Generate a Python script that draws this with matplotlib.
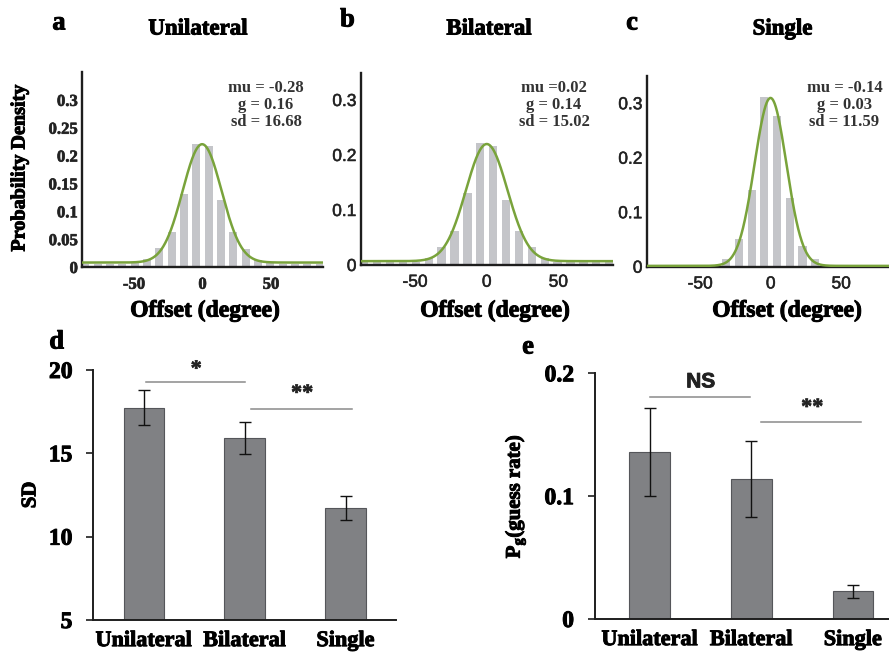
import numpy as np
import matplotlib
matplotlib.use("Agg")
import matplotlib.pyplot as plt
import matplotlib.patheffects as pe
from matplotlib.font_manager import FontProperties

W, H = 889, 656
SERIF = "Liberation Serif"
SANS = "Liberation Sans"

plt.rcParams['mathtext.fontset'] = 'custom'
plt.rcParams['mathtext.rm'] = 'Liberation Serif:bold'
plt.rcParams['mathtext.it'] = 'Liberation Serif:bold'
plt.rcParams['mathtext.bf'] = 'Liberation Serif:bold'

# ---------------- data ----------------
conditions = ["Unilateral", "Bilateral", "Single"]
panel_letters = ["a", "b", "c"]

# offset histograms (probability per 9-degree bin, bins from -90 to 90)
bin_width = 9.0
bin_centers = np.arange(-85.5, 90, bin_width)
hist_unilateral = [0.005, 0.005, 0.005, 0.005, 0.007, 0.014, 0.034, 0.063, 0.131, 0.221,
                   0.218, 0.120, 0.063, 0.033, 0.013, 0.007, 0.005, 0.005, 0.005, 0.005]
hist_bilateral = [0.005, 0.005, 0.005, 0.005, 0.005, 0.012, 0.032, 0.062, 0.131, 0.222,
                  0.217, 0.119, 0.061, 0.033, 0.012, 0.005, 0.005, 0.005, 0.005, 0.005]
hist_single = [0.001, 0.001, 0.001, 0.001, 0.001, 0.002, 0.0135, 0.051, 0.140, 0.312,
               0.277, 0.127, 0.038, 0.014, 0.002, 0.001, 0.001, 0.001, 0.001, 0.001]
histograms = [hist_unilateral, hist_bilateral, hist_single]

# mixture-model fits
fit_mu = [-0.28, 0.02, -0.14]
fit_g = [0.16, 0.14, 0.03]
fit_sd = [16.68, 15.02, 11.59]
fit_mu_text = ["mu = -0.28", "mu =0.02", "mu = -0.14"]
curve_sigma = [14.2, 14.5, 11.3]   # width of the plotted fit curve (degrees)

# group summaries
sd_means = [17.74, 15.92, 11.72]
sd_err = [1.07, 0.98, 0.72]
guess_means = [0.136, 0.114, 0.0225]
guess_err = [0.036, 0.031, 0.0055]

# ---------------- styling ----------------
HIST_COLOR = "#c4c5c9"
FIT_COLOR = "#79a33b"
BAR_COLOR = "#808184"
BAR_EDGE = "#55565a"
SIG_COLOR = "#8a8a8a"
AX_COLOR = "#1e1e1e"
HEAVY = [pe.withStroke(linewidth=0.7, foreground="black")]
HEAVY_SOFT = [pe.withStroke(linewidth=0.5, foreground="#333333")]

fig = plt.figure(figsize=(W / 100, H / 100), dpi=100)


def px_axes(left, top, right, bottom):
    return fig.add_axes([left / W, 1 - bottom / H, (right - left) / W, (bottom - top) / H])


def ftext(x, y, s, **kw):
    return fig.text(x / W, 1 - y / H, s, **kw)


# ---------------- panels a-c: offset distributions ----------------
hist_boxes = [(82, 72, 323, 267), (360.6, 72.5, 612.8, 265), (646.6, 76, 894.8, 266.7)]
title_x = [198, 489, 782.5]
letter_pos = [(59, 23), (347.5, 20), (632, 23)]
stats_x = [266, 554, 844.5]
xlabel_x = [205, 495, 787]

xs = np.linspace(-90, 90, 1441)
for i in range(3):
    ax = px_axes(*hist_boxes[i])
    ax.bar(bin_centers, histograms[i], width=5.8, color=HIST_COLOR, zorder=1)
    g, mu, s = fit_g[i], fit_mu[i], curve_sigma[i]
    curve = (1 - g) * bin_width * np.exp(-0.5 * ((xs - mu) / s) ** 2) / (s * np.sqrt(2 * np.pi)) \
        + g * bin_width / 180.0
    ax.plot(xs, curve, color=FIT_COLOR, lw=1.8, zorder=3)
    ax.set_xlim(-88, 88)
    ax.set_ylim(0, 0.35)
    for side in ("top", "right"):
        ax.spines[side].set_visible(False)
    for side in ("left", "bottom"):
        ax.spines[side].set_linewidth(1.7)
        ax.spines[side].set_color(AX_COLOR)
    ax.spines["bottom"].set_zorder(2)
    ax.set_xticks([-50, 0, 50])
    ax.set_xticklabels(["-50", "0", "50"])
    if i == 0:
        ax.set_yticks([0, 0.05, 0.1, 0.15, 0.2, 0.25, 0.3])
        ax.set_yticklabels(["0", "0.05", "0.1", "0.15", "0.2", "0.25", "0.3"])
        tick_font = dict(family=SERIF, weight="bold", size=12)
        effects = HEAVY_SOFT
    else:
        ax.set_yticks([0, 0.1, 0.2, 0.3])
        ax.set_yticklabels(["0", "0.1", "0.2", "0.3"])
        tick_font = dict(family=SANS, size=12.5)
        effects = [pe.withStroke(linewidth=0.4, foreground="#333333")]
    for lab in ax.get_xticklabels() + ax.get_yticklabels():
        lab.set_fontproperties(FontProperties(**tick_font))
        lab.set_color("#222222")
        lab.set_path_effects(effects)
    ax.tick_params(axis="both", length=0)
    ax.tick_params(axis="x", pad=7)
    ax.tick_params(axis="y", pad=3)
    ax.patch.set_alpha(0)

    # title, panel letter, fit parameters, x label
    ftext(title_x[i], 29, conditions[i], family=SERIF, weight="bold", size=16.5,
          ha="center", va="center", path_effects=HEAVY)
    ftext(letter_pos[i][0], letter_pos[i][1], panel_letters[i], family=SERIF,
          weight="bold", size=19, ha="center", va="center", path_effects=HEAVY)
    lines = [fit_mu_text[i], f"g = {fit_g[i]:.2f}", f"sd = {fit_sd[i]:.2f}"]
    for k, line in enumerate(lines):
        ftext(stats_x[i], 88 + 17 * k, line, family=SERIF, weight="bold", size=12,
              color="#333333", ha="center", va="center")
    ftext(xlabel_x[i], 311, "Offset (degree)", family=SERIF, weight="bold", size=17,
          ha="center", va="center", path_effects=HEAVY)

ftext(19.5, 168, "Probability Density", family=SERIF, weight="bold", size=14.5,
      rotation=90, ha="center", va="center", path_effects=HEAVY)

# ---------------- panels d, e: bar summaries ----------------
xpos = np.arange(len(conditions))


def style_bar_axes(ax):
    for side in ("top", "right"):
        ax.spines[side].set_visible(False)
    for side in ("left", "bottom"):
        ax.spines[side].set_linewidth(1.4)
        ax.spines[side].set_color(AX_COLOR)
    ax.tick_params(axis="y", length=5, width=1.2, color=AX_COLOR, pad=10)
    ax.tick_params(axis="x", length=0, pad=8)
    ax.set_xticks(xpos)
    ax.set_xticklabels(conditions)
    for lab in ax.get_xticklabels():
        lab.set_fontproperties(FontProperties(family=SERIF, weight="bold", size=16))
        lab.set_path_effects(HEAVY)
    for lab in ax.get_yticklabels():
        lab.set_fontproperties(FontProperties(family=SERIF, weight="bold", size=17))
        lab.set_path_effects(HEAVY)
    ax.patch.set_alpha(0)


def sig_bar(ax, x0, x1, y, label, ty, font):
    ax.plot([x0, x1], [y, y], color=SIG_COLOR, lw=1.1, clip_on=False)
    ax.text((x0 + x1) / 2 + 0.01, ty, label, ha="center", va="center", **font)


# d: SD
axd = px_axes(93.3, 370, 396, 620)
axd.bar(xpos, sd_means, width=0.4, color=BAR_COLOR, edgecolor=BAR_EDGE, linewidth=0.8,
        yerr=sd_err, capsize=4, error_kw=dict(elinewidth=1, ecolor="#111111", capthick=1))
axd.set_xlim(-0.5, 2.5)
axd.set_ylim(5, 20)
axd.set_yticks([5, 10, 15, 20])
style_bar_axes(axd)
axd.set_ylabel("SD", family=SERIF, weight="bold", size=15, labelpad=6,
               path_effects=HEAVY)
star_font = dict(family=SERIF, weight="bold", size=16, color="#222222",
                 path_effects=HEAVY_SOFT)
sig_bar(axd, 0.02, 1.0, 19.3, "*", 20.0, star_font)
sig_bar(axd, 1.06, 2.06, 17.64, "**", 18.55, star_font)
ftext(56.7, 342, "d", family=SERIF, weight="bold", size=19, ha="center", va="center",
      path_effects=HEAVY)

# e: guess rate
axe = px_axes(594.8, 373.3, 903.7, 619)
axe.bar(xpos, guess_means, width=0.4, color=BAR_COLOR, edgecolor=BAR_EDGE, linewidth=0.8,
        yerr=guess_err, capsize=4, error_kw=dict(elinewidth=1, ecolor="#111111", capthick=1))
axe.set_xlim(-0.54, 2.5)
axe.set_ylim(0, 0.2)
axe.set_yticks([0, 0.1, 0.2])
axe.set_yticklabels(["0", "0.1", "0.2"])
style_bar_axes(axe)
axe.set_ylabel(r"P$_{\mathrm{g}}$(guess rate)", family=SERIF, weight="bold", size=15,
               labelpad=12, path_effects=HEAVY)
sig_bar(axe, 0.0, 0.985, 0.181, "NS", 0.193,
        dict(family=SANS, weight="bold", size=15, color="#222222",
             path_effects=[pe.withStroke(linewidth=0.6, foreground="#222222")]))
sig_bar(axe, 1.1, 2.08, 0.1606, "**", 0.1715, star_font)
ftext(528, 347, "e", family=SERIF, weight="bold", size=19, ha="center", va="center",
      path_effects=HEAVY)

fig.savefig("out.png", dpi=100)
